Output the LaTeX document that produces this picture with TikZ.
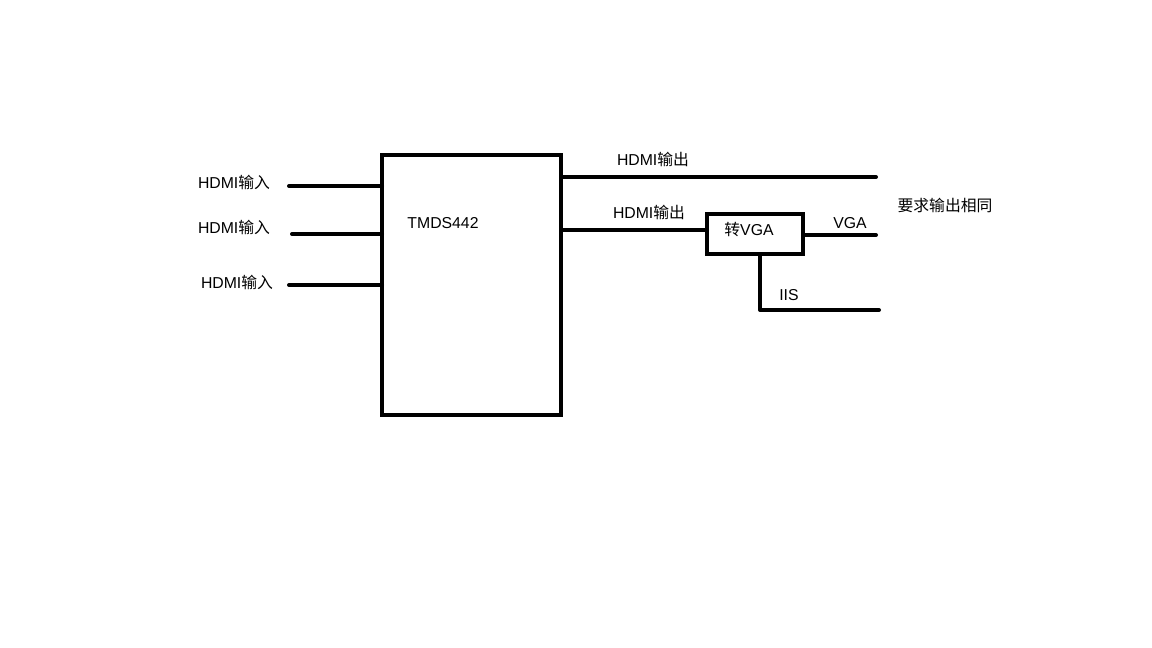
\documentclass[tikz,border=0pt]{standalone}
\usepackage{fontspec}
\setmainfont{Liberation Sans}
\newfontfamily\cjk{Noto Sans CJK SC}
\begin{document}
\begin{tikzpicture}[x=1pt,y=-1pt,
  wire/.style={line width=4pt,line cap=round},
  blk/.style={draw,line width=4pt,inner sep=0pt,outer sep=0pt,rectangle},
  lbl/.style={inner sep=0pt,font=\fontsize{15.8}{19}\selectfont}]
\useasboundingbox (0,0) rectangle (1152,648);
\fill[white] (0,0) rectangle (1152,648);
% main chip
\node[blk,minimum width=179pt,minimum height=260pt] (chip) at (471.5,285) {};
\node[lbl] (chiplbl) at (443,223) {TMDS442};
% inputs
\coordinate (i1) at (289,186);
\coordinate (i2) at (292,234);
\coordinate (i3) at (289,285);
\draw[wire] (i1) -- (i1 -| chip.west);
\draw[wire] (i2) -- (i2 -| chip.west);
\draw[wire] (i3) -- (i3 -| chip.west);
\node[lbl] (l1) at (234,182) {HDMI{\cjk 输入}};
\node[lbl] (l2) at (234,227) {HDMI{\cjk 输入}};
\node[lbl] (l3) at (237,282) {HDMI{\cjk 输入}};
% converter
\node[blk,minimum width=96pt,minimum height=40pt] (conv) at (755,234) {};
\node[lbl] (convlbl) at (749,230) {{\cjk 转}VGA};
% outputs
\coordinate (o1) at (876,177);
\coordinate (o2) at (563,230);
\coordinate (ovga) at (876,235);
\coordinate (iisc) at (760,310);
\coordinate (iise) at (879,310);
\draw[wire] (o1 -| chip.east) -- (o1);
\draw[wire] (o2 -| chip.east) -- (o2 -| conv.west);
\draw[wire] (ovga -| conv.east) -- (ovga);
\draw[wire,line join=round] (iisc |- conv.south) -- (iisc) -- (iise);
\node[lbl] (ol1) at (653,159) {HDMI{\cjk 输出}};
\node[lbl] (ol2) at (649,212) {HDMI{\cjk 输出}};
\node[lbl] (vgal) at (850,223) {VGA};
\node[lbl] (iisl) at (789,295) {IIS};
\node[lbl] (note) at (945,205) {\cjk 要求输出相同};
\end{tikzpicture}
\end{document}
